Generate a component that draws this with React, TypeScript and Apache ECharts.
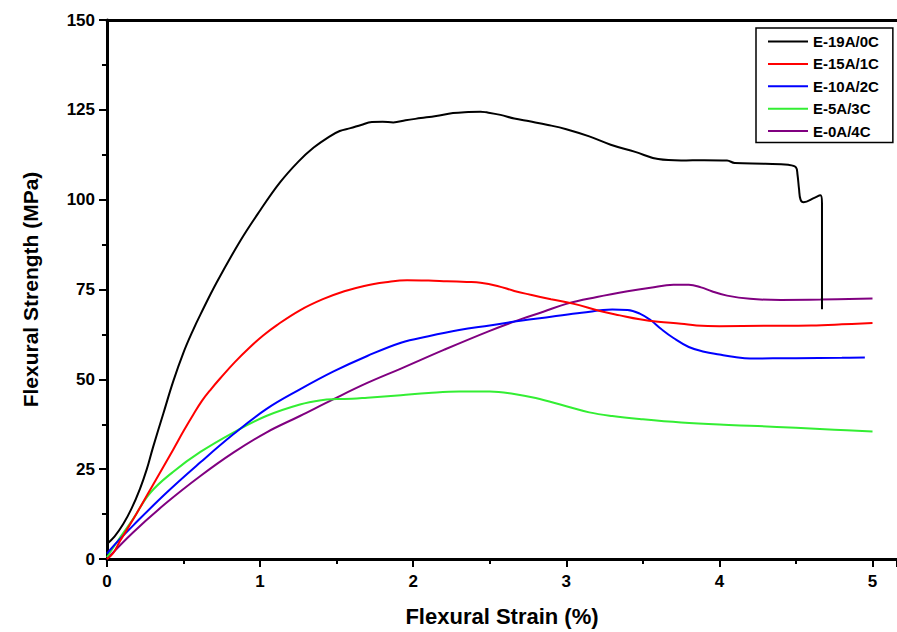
import React, { useEffect, useRef } from "react";
import * as echarts from "echarts";

const seriesNames = ["E-19A/0C", "E-15A/1C", "E-10A/2C", "E-5A/3C", "E-0A/4C"];
const seriesColors = ["#000000", "#ff0000", "#0000ff", "#33ee33", "#800080"];

const e19: number[][] = [
  [0, 4.2], [0.05, 6.3], [0.107, 9.8], [0.16, 14], [0.216, 19.6], [0.26, 25], [0.3, 31],
  [0.368, 40.5], [0.433, 49.5], [0.5, 57.5], [0.56, 63.5], [0.61, 68], [0.717, 77], [0.87, 88.5],
  [1.0, 97], [1.13, 104.8], [1.25, 110.6], [1.35, 114.5], [1.45, 117.5], [1.52, 119.1],
  [1.59, 119.9], [1.66, 120.8], [1.73, 121.6], [1.8, 121.7], [1.87, 121.5], [1.95, 122.1],
  [2.05, 122.7], [2.15, 123.3], [2.26, 124.1], [2.36, 124.4], [2.44, 124.5], [2.48, 124.3],
  [2.57, 123.6], [2.66, 122.6], [2.76, 121.8], [2.88, 120.8], [3.0, 119.6], [3.15, 117.6],
  [3.29, 115.3], [3.45, 113.3], [3.6, 111.3], [3.75, 110.9], [3.9, 111], [4.05, 110.9],
  [4.1, 110.2], [4.3, 110], [4.45, 109.7], [4.5, 109], [4.51, 107], [4.52, 103], [4.53, 100],
  [4.55, 99.3], [4.62, 100.5], [4.66, 101.2], [4.67, 99], [4.67, 69.5],
];
const e15: number[][] = [
  [0, 0], [0.04, 1.6], [0.085, 5], [0.172, 11.1], [0.23, 15.4], [0.3, 20.6], [0.433, 30.5],
  [0.5, 35.6], [0.564, 40.2], [0.62, 44], [0.68, 47.3], [0.74, 50.3], [0.835, 54.8],
  [0.935, 59], [1.02, 62.2], [1.11, 65.1], [1.26, 69.2], [1.41, 72.3], [1.55, 74.5], [1.68, 76],
  [1.82, 77], [1.96, 77.6], [2.1, 77.5], [2.22, 77.3], [2.35, 77.1], [2.44, 76.9], [2.55, 76],
  [2.66, 74.6], [2.76, 73.6], [2.9, 72.3], [3.05, 71], [3.22, 69], [3.35, 67.8], [3.48, 66.7],
  [3.6, 66], [3.75, 65.5], [3.85, 65], [4.0, 64.8], [4.3, 64.9], [4.6, 65], [4.8, 65.3],
  [5.0, 65.7],
];
const e10: number[][] = [
  [0, 1.5], [0.05, 4], [0.17, 9.3], [0.39, 18.5], [0.61, 26.9], [0.825, 34.7], [1.04, 41.7],
  [1.26, 47.2], [1.48, 52.2], [1.7, 56.5], [1.92, 60.2], [2.1, 62], [2.3, 63.7], [2.5, 65],
  [2.7, 66.3], [2.9, 67.4], [3.1, 68.5], [3.3, 69.4], [3.4, 69.3], [3.48, 68.3], [3.55, 66.5],
  [3.62, 64], [3.7, 61.5], [3.8, 59], [3.9, 57.7], [4.0, 56.9], [4.1, 56.2], [4.2, 55.8],
  [4.5, 55.9], [4.8, 56], [4.95, 56.1],
];
const e5: number[][] = [
  [0, 0.5], [0.063, 4.6], [0.17, 11.1], [0.28, 18.3], [0.433, 24.3], [0.61, 29.8], [0.825, 35.2],
  [1.04, 39.8], [1.26, 43], [1.4, 44.2], [1.5, 44.5], [1.6, 44.6], [1.7, 44.9], [1.92, 45.6],
  [2.1, 46.2], [2.3, 46.6], [2.5, 46.6], [2.65, 46], [2.8, 44.8], [3.0, 42.5], [3.15, 40.8],
  [3.3, 39.8], [3.5, 38.9], [3.75, 38], [4.0, 37.4], [4.25, 37], [4.5, 36.5], [4.75, 36],
  [5.0, 35.5],
];
const e0: number[][] = [
  [0, 0], [0.17, 7.4], [0.39, 15.7], [0.61, 23.1], [0.825, 29.6], [1.04, 35.2], [1.26, 39.8],
  [1.48, 44.5], [1.7, 49], [1.92, 53], [2.2, 58.2], [2.5, 63.5], [2.7, 66.7], [2.85, 68.8],
  [3.0, 71], [3.2, 72.9], [3.4, 74.5], [3.55, 75.5], [3.7, 76.3], [3.8, 76.3], [3.88, 75.6],
  [3.95, 74.5], [4.05, 73.3], [4.2, 72.4], [4.4, 72.1], [4.66, 72.2], [5.0, 72.5],
];
const seriesData = [e19, e15, e10, e5, e0];

const xTicks = { min: 0, max: 5.16, interval: 1 };
const yTicks = { min: 0, max: 150, interval: 25 };

const FONT = "'Liberation Sans', Arial, sans-serif";

export default function App() {
  const ref = useRef<HTMLDivElement>(null);
  useEffect(() => {
    if (!ref.current) return;
    const chart = echarts.init(ref.current, null, { renderer: "svg" });
    chart.setOption({
      animation: false,
      backgroundColor: "#ffffff",
      grid: { left: 107, right: 0, top: 20, bottom: 72, containLabel: false },
      legend: {
        orient: "vertical",
        left: 756,
        top: 28,
        data: seriesNames,
        icon: "path://M0,0 L40,0 L40,2 L0,2 Z",
        itemWidth: 40,
        itemHeight: 14,
        itemGap: 7.4,
        padding: [6, 14, 4, 12],
        borderColor: "#000",
        borderWidth: 1.5,
        backgroundColor: "#fff",
        textStyle: { fontFamily: FONT, fontWeight: "bold", fontSize: 15, color: "#000" },
      },
      xAxis: [
        {
          type: "value",
          min: xTicks.min,
          max: xTicks.max,
          interval: xTicks.interval,
          name: "Flexural Strain (%)",
          nameLocation: "middle",
          nameGap: 46,
          nameTextStyle: { fontFamily: FONT, fontWeight: "bold", fontSize: 22, color: "#000" },
          axisLine: { show: true, onZero: false, lineStyle: { color: "#000", width: 3 } },
          axisTick: { show: true, inside: false, length: 8, lineStyle: { color: "#000", width: 2 } },
          minorTick: { show: true, splitNumber: 2, length: 5, lineStyle: { color: "#000", width: 2 } },
          splitLine: { show: false },
          axisLabel: {
            margin: 14,
            fontFamily: FONT,
            fontWeight: "bold",
            fontSize: 17,
            color: "#000",
            showMaxLabel: false,
            formatter: (v: number) => (Math.abs(v - Math.round(v)) < 1e-6 ? String(Math.round(v)) : ""),
          },
        },
        {
          type: "value",
          position: "top",
          min: xTicks.min,
          max: xTicks.max,
          axisLine: { show: true, onZero: false, lineStyle: { color: "#000", width: 3 } },
          axisTick: { show: false },
          axisLabel: { show: false },
          splitLine: { show: false },
        },
      ],
      yAxis: {
        type: "value",
        min: yTicks.min,
        max: yTicks.max,
        interval: yTicks.interval,
        name: "Flexural Strength (MPa)",
        nameLocation: "middle",
        nameGap: 66,
        nameTextStyle: { fontFamily: FONT, fontWeight: "bold", fontSize: 21, color: "#000" },
        axisLine: { show: true, onZero: false, lineStyle: { color: "#000", width: 3 } },
        axisTick: { show: true, inside: false, length: 8, lineStyle: { color: "#000", width: 2 } },
        minorTick: { show: true, splitNumber: 2, length: 5, lineStyle: { color: "#000", width: 2 } },
        splitLine: { show: false },
        axisLabel: { margin: 12, fontFamily: FONT, fontWeight: "bold", fontSize: 17, color: "#000" },
      },
      series: seriesNames.map((name, i) => ({
        name,
        type: "line",
        data: seriesData[i],
        symbol: "none",
        smooth: 0.4,
        color: seriesColors[i],
        lineStyle: { width: 2, color: seriesColors[i] },
        z: 10 - i,
      })),
    });
    return () => chart.dispose();
  }, []);
  return <div ref={ref} style={{ width: 897, height: 632, position: "absolute", left: 0, top: 0 }} />;
}
